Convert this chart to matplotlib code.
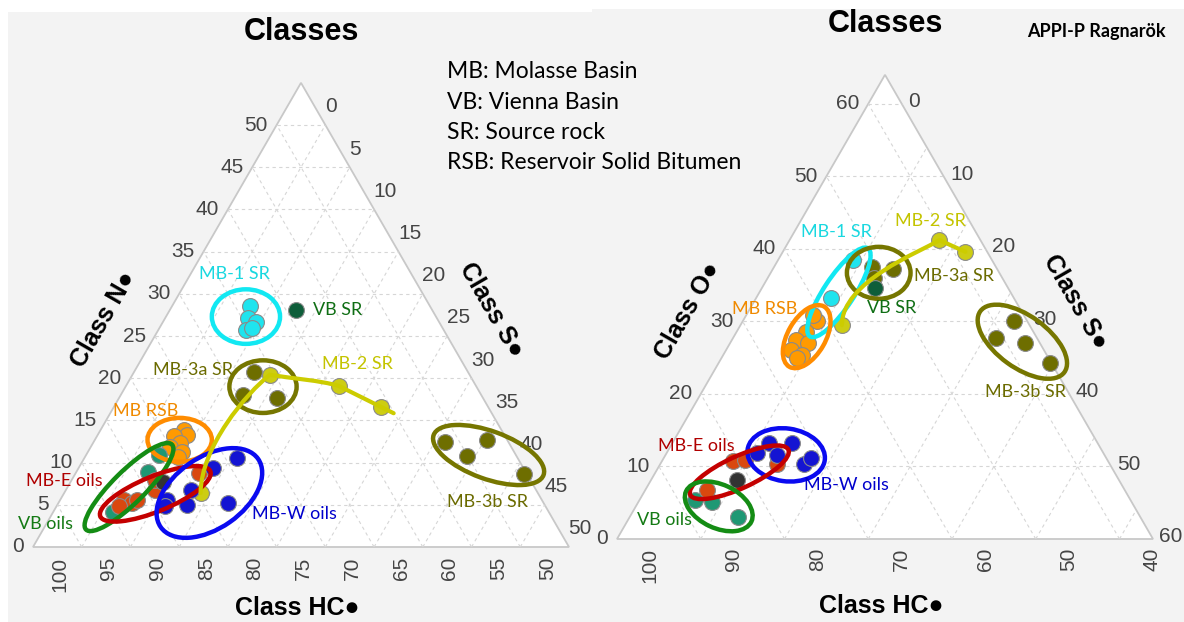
import numpy as np
import matplotlib.pyplot as plt
from matplotlib.patches import Polygon, Ellipse, PathPatch
from matplotlib.path import Path

W, H = 1184, 622
SQ = np.sqrt(3) / 2

# ---- left diagram, rows = (Class HC, Class N, Class S) in % ----
L_MB1_SR = [(63.5, 28.5, 8.0), (64.4, 27.1, 8.5), (63.8, 26.7, 9.5), (65.3, 25.7, 9.0), (64.6, 25.9, 9.5)]
L_VB_SR = [(59.0, 28.1, 12.9)]
L_MB3A_SR = [(67.0, 20.7, 12.3), (69.5, 18.0, 12.5), (66.2, 17.6, 16.2)]
L_MB2_SR = [(79.6, 6.4, 14.0), (65.5, 20.4, 14.1), (59.1, 19.1, 21.8), (56.0, 16.6, 27.4)]
L_MB3B_SR = [(51.5, 12.4, 36.1), (50.1, 10.8, 39.1), (47.1, 12.7, 40.2), (45.3, 8.7, 46.0)]
L_MB_RSB = [(77.6, 13.9, 8.5), (77.5, 13.3, 9.2), (79.0, 13.1, 7.9), (78.8, 12.3, 8.9),
            (80.0, 11.9, 8.1), (79.1, 11.3, 9.6), (79.8, 10.7, 9.5)]
L_VB_OILS = [(81.6, 10.9, 7.5), (83.8, 8.9, 7.3), (89.7, 4.2, 6.1)]
L_MBE_OILS = [(87.9, 5.6, 6.5), (87.2, 5.2, 7.6), (88.8, 4.8, 6.4), (86.5, 5.6, 7.9),
              (84.1, 6.8, 9.1), (83.5, 7.9, 8.6), (78.6, 8.8, 12.6)]
L_MBW_OILS = [(73.8, 10.6, 15.6), (76.8, 9.4, 13.8), (80.4, 6.8, 12.8), (83.4, 5.6, 11.0),
              (81.7, 5.0, 13.3), (77.4, 5.2, 17.4), (84.1, 4.8, 11.1)]
L_OTHER = [(82.8, 7.7, 9.5)]

# ---- right diagram, rows = (Class HC, Class O, Class S) in % ----
R_MB1_SR = [(52.6, 38.5, 8.9), (57.9, 33.2, 8.9)]
R_VB_SR = [(51.9, 34.6, 13.5)]
R_MB3A_SR = [(50.8, 37.5, 11.7), (48.4, 37.2, 14.4), (51.3, 36.0, 12.7)]
R_MB2_SR = [(58.4, 29.5, 12.1), (40.9, 41.2, 17.9), (38.6, 39.6, 21.8)]
R_MB3B_SR = [(37.6, 30.1, 32.3), (40.9, 27.7, 31.4), (37.8, 27.0, 35.2), (36.2, 24.2, 39.6)]
R_MB_RSB = [(61.1, 30.0, 8.9), (61.1, 30.9, 8.0), (63.1, 28.6, 8.3), (64.9, 27.4, 7.7),
            (63.7, 27.0, 9.3), (66.2, 26.1, 7.7), (65.2, 25.4, 9.4), (66.1, 24.9, 9.0)]
R_VB_OILS = [(88.0, 5.4, 6.6), (86.1, 5.1, 8.8), (84.0, 3.1, 12.9)]
R_MBE_OILS = [(80.8, 10.7, 8.5), (79.3, 10.9, 9.8), (75.7, 10.4, 13.9), (85.9, 6.8, 7.3)]
R_MBW_OILS = [(75.3, 13.2, 11.5), (72.5, 13.2, 14.3), (77.4, 11.8, 10.8), (75.1, 11.6, 13.3),
              (72.5, 10.4, 17.1), (71.2, 11.2, 17.6)]
R_OTHER = [(81.6, 8.1, 10.3)]

LEFT_TICKS = list(range(0, 55, 5))
RIGHT_TICKS = list(range(0, 70, 10))

LEGEND_LINES = ["MB: Molasse Basin", "VB: Vienna Basin", "SR: Source rock", "RSB: Reservoir Solid Bitumen"]

C_CYAN, C_OLIVE, C_YEL, C_ORG = "#1fe4ee", "#6e6e00", "#cdcd12", "#ff9a00"
C_DKGRN, C_TEAL, C_RED, C_BLUE, C_GRAY = "#0e5e3a", "#1f9874", "#d9480f", "#1414d2", "#333333"

TICKFONT = ["Liberation Sans", "DejaVu Sans"]
LABFONT = ["Lato", "DejaVu Sans"]


def cart(rows):
    a = np.asarray(rows, dtype=float)
    a = a / a.sum(axis=1, keepdims=True) * 100
    n, s = a[:, 1], a[:, 2]
    return s + n / 2, n * SQ


def ns(n, s):
    return s + n / 2, n * SQ


def make_panel(fig, rect_px, corner_px, span):
    # rect_px: panel box (x0, y0, x1, y1) in image pixels, corner_px: HC=100 corner
    x0, y0, x1, y1 = rect_px
    bx, by = corner_px
    u = 536 / span
    ax = fig.add_axes([x0 / W, (H - y1) / H, (x1 - x0) / W, (y1 - y0) / H])
    ax.set_xlim((x0 - bx) / u, (x1 - bx) / u)
    ax.set_ylim((by - y1) / u, (by - y0) / u)
    ax.set_facecolor("#f3f3f3")
    ax.set_xticks([])
    ax.set_yticks([])
    for sp in ax.spines.values():
        sp.set_visible(False)
    tri = Polygon([(0, 0), (span, 0), (span / 2, span * SQ)], closed=True,
                  facecolor="white", edgecolor="#c8c8c8", lw=1.3, zorder=1)
    ax.add_patch(tri)
    return ax


def draw_grid(ax, span, ticks, hc_off, s_off):
    for v in ticks:
        if 0 < v < span:
            # constant N / O
            ax.plot([v / 2, span - v / 2], [v * SQ, v * SQ], color="#d6d6d6", lw=0.8,
                    ls=(0, (3, 3)), zorder=1.5)
            # constant S
            ax.plot([v, v + (span - v) / 2], [0, (span - v) * SQ], color="#d6d6d6", lw=0.8,
                    ls=(0, (3, 3)), zorder=1.5)
            # constant HC
            ax.plot([v, v / 2], [0, v * SQ], color="#d6d6d6", lw=0.8,
                    ls=(0, (3, 3)), zorder=1.5)
        ax.annotate(str(v), xy=(v / 2, v * SQ), xytext=(-9, 0), textcoords="offset pixels",
                    ha="right", va="center", fontsize=15, color="#444444", family=TICKFONT)
        ax.annotate(str(100 - v), xy=(v, 0), xytext=hc_off, textcoords="offset pixels",
                    ha="center", va="top", rotation=90, fontsize=15, color="#444444",
                    family=TICKFONT)
        ax.annotate(str(v), xy=(v + (span - v) / 2, (span - v) * SQ), xytext=s_off,
                    textcoords="offset pixels", ha="left", va="center", fontsize=15,
                    color="#444444", family=TICKFONT)


def titles(ax, span, left_name, hc_dy):
    kw = dict(textcoords="offset pixels", ha="center", va="center", fontsize=18,
              fontweight="bold", family=TICKFONT, color="black", rotation_mode="anchor")
    ax.annotate("Classes", xy=(span / 2, span * SQ), xytext=(0, 51), fontsize=22,
                **{k: v for k, v in kw.items() if k != "fontsize"})
    ax.annotate(left_name, xy=(span / 4, span * SQ / 2), xytext=(-63, -4), rotation=60, **kw)
    ax.annotate("Class S\u25cf", xy=(span * 3 / 4, span * SQ / 2), xytext=(56, 5),
                rotation=-60, **kw)
    ax.annotate("Class HC\u25cf", xy=(span / 2, 0), xytext=(-4, hc_dy), **kw)


def points(ax, rows, color, z=3):
    x, y = cart(rows)
    ax.scatter(x, y, s=130, color=color, edgecolor="#8a8a8a", linewidth=0.8, zorder=z)


def ring(ax, n, s, major, minor, angle, color):
    ax.add_patch(Ellipse(ns(n, s), major, minor, angle=angle, fill=False, edgecolor=color,
                         lw=3.2, zorder=5))


def trend(ax, rows, color, tail=0.0):
    x, y = cart(rows)
    pts = np.column_stack([x, y])
    verts, codes = [pts[0]], [Path.MOVETO]
    n = len(pts)
    for i in range(n - 1):
        p0, p1 = pts[i], pts[i + 1]
        if i == 0:
            c1 = p0 + np.array([0, np.linalg.norm(p1 - p0) / 3])
        else:
            c1 = p0 + (p1 - p0) / 3
        if i + 2 < n:
            c2 = p1 - (pts[i + 2] - p0) / 6
        else:
            c2 = p1 - (p1 - p0) / 3
        verts += [c1, c2, p1]
        codes += [Path.CURVE4] * 3
    if tail:
        verts.append(pts[-1] + tail * (pts[-1] - pts[-2]))
        codes.append(Path.LINETO)
    ax.add_patch(PathPatch(Path(verts, codes), fill=False, edgecolor=color, lw=3, zorder=6,
                           capstyle="round"))


def label(ax, text, n, s, color, ha="center"):
    x, y = ns(n, s)
    ax.text(x, y, text, ha=ha, va="center", fontsize=13, color=color, family=LABFONT, zorder=8)


fig = plt.figure(figsize=(W / 100, H / 100), dpi=100)
fig.patch.set_facecolor("white")

# ---------------- left diagram ----------------
axl = make_panel(fig, (8, 12, 592, 622), (33, 547), 55)
draw_grid(axl, 55, LEFT_TICKS, (27, -10), (24, -24))
titles(axl, 55, "Class N\u25cf", -61)

points(axl, L_MB1_SR, C_CYAN)
points(axl, L_VB_SR, C_DKGRN)
points(axl, L_MB3A_SR, C_OLIVE)
points(axl, L_MB2_SR, C_YEL)
points(axl, L_MB3B_SR, C_OLIVE)
points(axl, L_MB_RSB, C_ORG)
points(axl, L_VB_OILS, C_TEAL)
points(axl, L_MBE_OILS, C_RED)
points(axl, L_OTHER, C_GRAY)
points(axl, L_MBW_OILS, C_BLUE)

ring(axl, 27.3, 8.2, 7.0, 5.6, 0, "#12e8f2")
ring(axl, 19.0, 14.1, 6.9, 5.4, 0, "#767600")
ring(axl, 12.7, 8.7, 6.6, 4.5, 0, "#ff8c00")
ring(axl, 7.1, 6.3, 12.4, 3.3, 44.7, "#148c14")
ring(axl, 6.3, 9.4, 12.2, 3.6, 22.3, "#c40000")
ring(axl, 6.4, 14.9, 12.2, 7.3, 35, "#0a0af0")
ring(axl, 10.9, 41.3, 12.0, 4.9, -20, "#767600")
trend(axl, L_MB2_SR, "#cccc00", tail=0.3)

label(axl, "MB-1 SR", 32.4, 4.5, "#1ad8e0")
label(axl, "VB SR", 28.1, 14.7, "#0f6e14", ha="left")
label(axl, "MB-3a SR", 21.0, 5.9, "#6b6b00")
label(axl, "MB-2 SR", 21.7, 22.4, "#c4c400")
label(axl, "MB RSB", 16.1, 3.5, "#f08a00")
label(axl, "MB-E oils", 7.8, -0.7, "#b00000")
label(axl, "VB oils", 2.7, -0.1, "#147a14")
label(axl, "MB-W oils", 3.9, 24.9, "#0000cc")
label(axl, "MB-3b SR", 5.3, 44.0, "#6b6b00")

# ---------------- right diagram ----------------
axr = make_panel(fig, (592, 9, 1184, 622), (617, 539), 64)
draw_grid(axr, 64, RIGHT_TICKS, (33, -9), (23, -27))
titles(axr, 64, "Class O\u25cf", -67)

points(axr, R_MB1_SR, C_CYAN)
points(axr, R_MB3A_SR, C_OLIVE)
points(axr, R_VB_SR, C_DKGRN)
points(axr, R_MB2_SR, C_YEL)
points(axr, R_MB3B_SR, C_OLIVE)
points(axr, R_MB_RSB, C_ORG)
points(axr, R_VB_OILS, C_TEAL)
points(axr, R_MBE_OILS, C_RED)
points(axr, R_OTHER, C_GRAY)
points(axr, R_MBW_OILS, C_BLUE)

ring(axr, 34.0, 9.5, 12.6, 3.6, 56.6, "#12e8f2")
ring(axr, 36.7, 12.9, 7.6, 6.2, 0, "#767600")
ring(axr, 27.9, 8.7, 8.3, 4.5, 60, "#ff8c00")
ring(axr, 27.2, 34.8, 12.4, 6.2, -36, "#767600")
ring(axr, 11.6, 14.4, 9.3, 6.3, -8, "#0a0af0")
ring(axr, 9.2, 10.0, 12.9, 3.8, 24.7, "#c40000")
ring(axr, 4.5, 9.9, 8.6, 5.2, -25, "#148c14")
trend(axr, R_MB2_SR, "#cccc00")

label(axr, "MB-1 SR", 42.3, 5.0, "#1ad8e0")
label(axr, "MB-3a SR", 36.3, 17.3, "#6b6b00", ha="left")
label(axr, "VB SR", 31.9, 16.9, "#0f6e14")
label(axr, "MB-2 SR", 43.8, 15.5, "#c4c400")
label(axr, "MB RSB", 31.7, 1.8, "#f08a00")
label(axr, "MB-3b SR", 20.3, 38.6, "#6b6b00")
label(axr, "MB-W oils", 7.5, 23.7, "#0000cc")
label(axr, "MB-E oils", 12.8, 3.1, "#b00000")
label(axr, "VB oils", 2.6, 4.4, "#147a14")

# abbreviations and source note
for i, line in enumerate(LEGEND_LINES):
    fig.text(447 / W, 1 - (72 + 30.3 * i) / H, line, ha="left", va="center", fontsize=16.5,
             family=LABFONT, color="black")
fig.text(1027 / W, 1 - 31 / H, "APPI-P Ragnar\u00f6k", ha="left", va="center", fontsize=13,
         fontweight="bold", family=LABFONT, color="black")

fig.savefig("out.png", dpi=100)
